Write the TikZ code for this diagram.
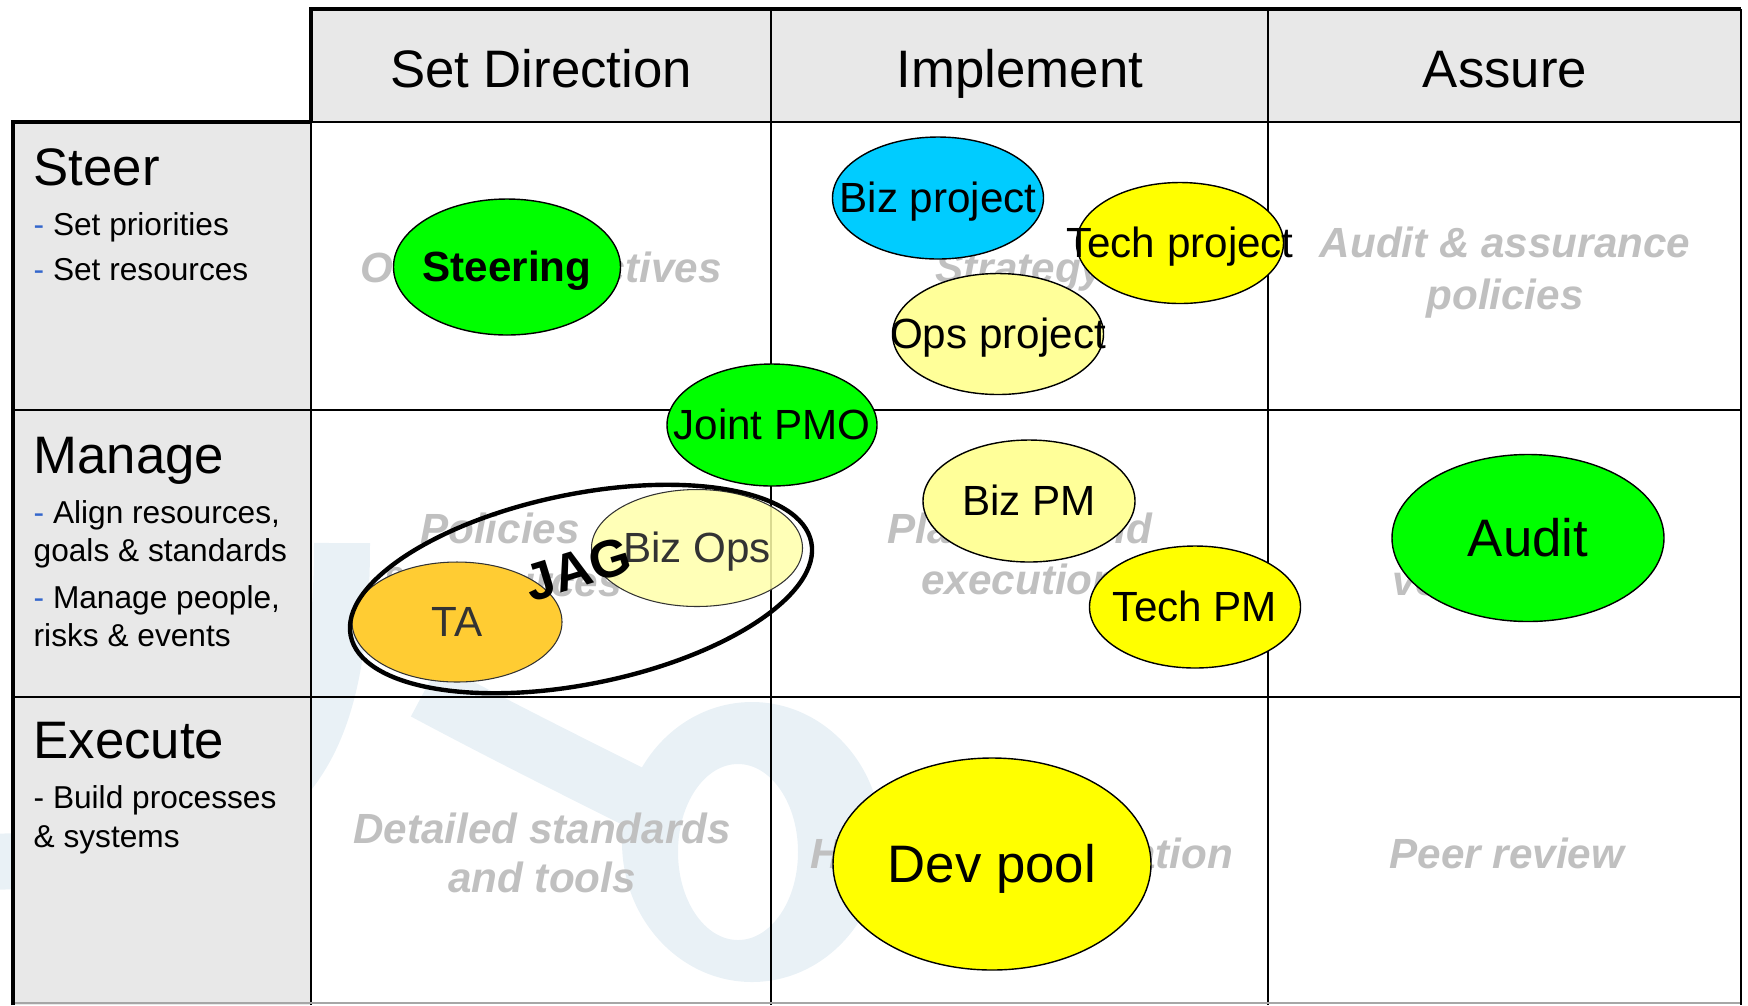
\documentclass[tikz,border=0pt]{standalone}
\usepackage{fontspec}
\setmainfont{Liberation Sans}
\usetikzlibrary{shapes.geometric}

\definecolor{headerGray}{RGB}{232,232,232}
\definecolor{cellGray}{RGB}{192,192,192}
\definecolor{dashBlue}{RGB}{51,102,204}
\definecolor{markBlue}{RGB}{233,241,246}
\definecolor{roleGreen}{RGB}{0,255,0}
\definecolor{roleCyan}{RGB}{0,204,255}
\definecolor{roleYellow}{RGB}{255,255,0}
\definecolor{rolePale}{RGB}{255,255,153}
\definecolor{roleOrange}{RGB}{255,204,51}
\definecolor{roleCream}{RGB}{255,255,170}
\definecolor{labelGray}{RGB}{51,51,51}

\tikzstyle{matrixGrid} = [x = .01cm, y = -.01cm]
\tikzstyle{outerLine} = [line width = 1.15pt]
\tikzstyle{rowLine} = [line width = .8pt]
\tikzstyle{columnLine} = [line width = .6pt]
\tikzstyle{headText} = [font=\fontsize{15}{18}\selectfont, anchor=base, inner sep=0]
\tikzstyle{sideTitle} = [font=\fontsize{15}{18}\selectfont, anchor=base west, inner sep=0]
\tikzstyle{sideItem} = [font=\fontsize{9}{11}\selectfont, anchor=base west, inner sep=0]
\tikzstyle{cellText} = [font=\fontsize{12}{14}\selectfont\bfseries\itshape, text=cellGray, anchor=base, inner sep=0]
\tikzstyle{roleShape} = [ellipse, draw=black, line width=.4pt, inner sep=0]
\tikzstyle{softRole} = [ellipse, draw=labelGray, line width=.3pt, inner sep=0]
\tikzstyle{roleText} = [font=\fontsize{12}{14}\selectfont, anchor=base, yshift=-.146cm, inner sep=0]
\tikzstyle{bigRoleText} = [font=\fontsize{15}{18}\selectfont, anchor=base, yshift=-.183cm, inner sep=0]
\tikzstyle{jagRing} = [ellipse, draw=black, line width=1.25pt, inner sep=0]

\newcommand{\dashItem}{\textcolor{dashBlue}{-}\ }
\newcommand{\headCell}[3]{\node [headText] (#1) at (#2,87) {#3};}
\newcommand{\sideLine}[4]{\node [#1] (#2) at (33,#3) {#4};}
\newcommand{\cellLine}[4]{\node [cellText] (#1) at (#2,#3) {#4};}
\newcommand{\roleEllipse}[8]{
  \node [roleShape, fill=#6, minimum width=#4*.01cm, minimum height=#5*.01cm] (#1) at (#2,#3) {};
  \node [#7] (#1Text) at (#1.center) {#8};
}

\begin{document}
\begin{tikzpicture}[matrixGrid]
  \useasboundingbox (0,0) rectangle (1748,1005);

  \draw [markBlue, line width=56*.01cm] (-40,862) .. controls (260,862) and (342,800) .. (342,543);
  \draw [markBlue, line width=60*.01cm] (425,690) .. controls (500,730) and (560,760) .. (640,800);
  \fill [markBlue, even odd rule] (752,842) ellipse [x radius=130, y radius=140] (738,852) ellipse [x radius=60, y radius=88];

  \fill [headerGray] (311,9) rectangle (1741,122);
  \fill [headerGray] (13,122) rectangle (311,1005);

  \draw [rowLine] (311,122) -- (1741,122);
  \draw [rowLine] (13,410) -- (1741,410);
  \draw [rowLine] (13,697) -- (1741,697);
  \draw [columnLine] (311,122) -- (311,1005);
  \draw [columnLine] (771,9) -- (771,1005);
  \draw [columnLine] (1268,9) -- (1268,1005);
  \draw [columnLine, gray!70] (13,1003) -- (1741,1003);
  \draw [rowLine] (1741,9) -- (1741,1005);
  \draw [outerLine] (311,122) -- (311,9) -- (1741,9);
  \draw [outerLine] (13,1005) -- (13,122) -- (311,122);

  \headCell{setDirection}{541}{Set Direction}
  \headCell{implement}{1020}{Implement}
  \headCell{assure}{1505}{Assure}

  \sideLine{sideTitle}{steer}{185}{Steer}
  \sideLine{sideItem}{steerA}{235}{\dashItem Set priorities}
  \sideLine{sideItem}{steerB}{280}{\dashItem Set resources}
  \sideLine{sideTitle}{manage}{473}{Manage}
  \sideLine{sideItem}{manageA}{523}{\dashItem Align resources,}
  \sideLine{sideItem}{manageB}{561}{goals \& standards}
  \sideLine{sideItem}{manageC}{608}{\dashItem Manage people,}
  \sideLine{sideItem}{manageD}{646}{risks \& events}
  \sideLine{sideTitle}{execute}{758}{Execute}
  \sideLine{sideItem}{executeA}{808}{- Build processes}
  \sideLine{sideItem}{executeB}{847}{\& systems}

  \cellLine{objectives}{541}{282}{Overall objectives}
  \cellLine{strategy}{1020}{282}{Strategy}
  \cellLine{auditPolicyA}{1505}{257}{Audit \& assurance}
  \cellLine{auditPolicyB}{1505}{309}{policies}
  \cellLine{policiesA}{500}{543}{Policies}
  \cellLine{policiesB}{500}{596}{\& resources}
  \cellLine{planningA}{1020}{543}{Planning and}
  \cellLine{planningB}{1020}{594}{execution}
  \cellLine{verification}{1505}{595}{verification}
  \cellLine{standardsA}{542}{843}{Detailed standards}
  \cellLine{standardsB}{542}{892}{and tools}
  \cellLine{integration}{1022}{868}{Hardware integration}
  \cellLine{peerReview}{1507}{868}{Peer review}

  \roleEllipse{steering}{507}{267}{227}{136}{roleGreen}{roleText}{\bfseries Steering}
  \roleEllipse{bizProject}{938}{198}{211}{122}{roleCyan}{roleText}{Biz project}
  \roleEllipse{techProject}{1180}{243}{207}{121}{roleYellow}{roleText}{Tech project}
  \roleEllipse{opsProject}{998}{334}{211}{121}{rolePale}{roleText}{Ops project}
  \roleEllipse{jointPmo}{772}{425}{210}{122}{roleGreen}{roleText}{Joint PMO}
  \roleEllipse{bizPm}{1029}{501}{212}{122}{rolePale}{roleText}{Biz PM}
  \roleEllipse{techPm}{1195}{607}{211}{122}{roleYellow}{roleText}{Tech PM}
  \roleEllipse{audit}{1528}{538}{272}{167}{roleGreen}{bigRoleText}{Audit}
  \roleEllipse{devPool}{992}{864}{318}{212}{roleYellow}{bigRoleText}{Dev pool}

  \node [softRole, fill=roleOrange, minimum width=210*.01cm, minimum height=120*.01cm] (ta) at (457,622) {};
  \node [roleText, text=labelGray] (taText) at (ta.center) {TA};
  \node [softRole, fill=roleCream, fill opacity=.85, minimum width=211*.01cm, minimum height=117*.01cm] (bizOps) at (697,548) {};
  \node [roleText, text=labelGray] (bizOpsText) at (bizOps.center) {Biz Ops};

  \node [jagRing, rotate=11.5, minimum width=470*.01cm, minimum height=190*.01cm] (jag) at (581,589) {};
  \node [font=\fontsize{15}{18}\selectfont\bfseries, rotate=17, inner sep=0] (jagText) at (578,569) {JAG};
\end{tikzpicture}
\end{document}
